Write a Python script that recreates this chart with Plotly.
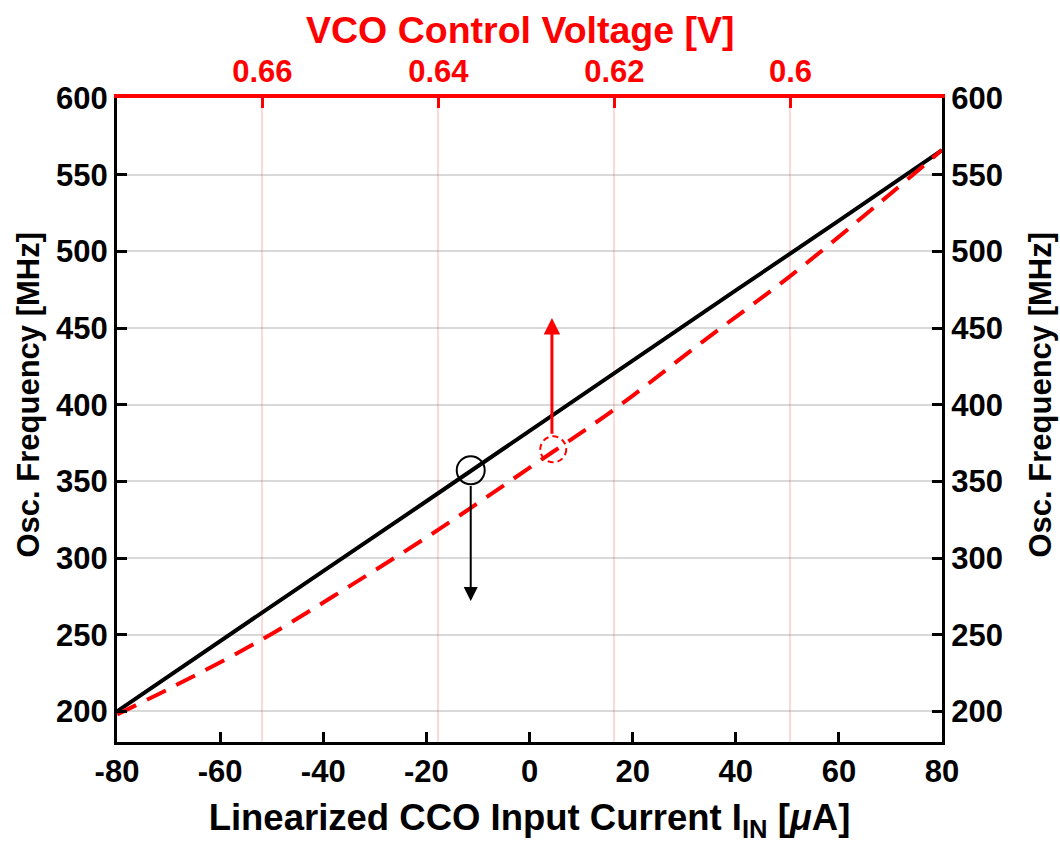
import plotly.graph_objects as go

# ---- data ----
current_uA = [-80, -60, -40, -20, 0, 20, 40, 60, 80]
freq_cco_MHz = [200, 246, 291.5, 337, 383, 429, 474.5, 520, 566]

vco_voltage_V = [0.6765, 0.67, 0.66, 0.65, 0.64, 0.63, 0.62, 0.61, 0.60, 0.59, 0.5828]
freq_vco_MHz = [198, 216.5, 247, 282, 318.5, 357.5, 397, 441, 484, 531, 566]

x_ticks = [-80, -60, -40, -20, 0, 20, 40, 60, 80]
x_tick_labels = ["-80", "-60", "-40", "-20", "0", "20", "40", "60", "80"]
y_ticks = [200, 250, 300, 350, 400, 450, 500, 550, 600]
v_ticks = [0.66, 0.64, 0.62, 0.6]
v_tick_labels = ["0.66", "0.64", "0.62", "0.6"]

# marker points
cco_point = (-11.4, 357.2)
cco_arrow = (348, 272)
vco_point = (0.62695, 370.9)
vco_arrow = (0.6271, 380, 456.5)

FONT = "Liberation Sans"
Y_TITLE = "Osc. Frequency [MHz]"
TOP_TITLE = "VCO Control Voltage [V]"

fig = go.Figure()
fig.add_trace(go.Scatter(x=current_uA, y=freq_cco_MHz, mode="lines",
                         line=dict(color="black", width=4), xaxis="x", yaxis="y",
                         showlegend=False))
fig.add_trace(go.Scatter(x=vco_voltage_V, y=freq_vco_MHz, mode="lines",
                         line=dict(color="red", width=4, dash="21px,12px", shape="spline"),
                         xaxis="x2", yaxis="y", showlegend=False))
# trace on the right axis so it is shown
fig.add_trace(go.Scatter(x=[None], y=[None], xaxis="x", yaxis="y2", showlegend=False))

tickfont = dict(family=FONT, size=31, color="black", weight="bold")

fig.update_layout(
    width=1060, height=846,
    margin=dict(l=117, r=118, t=98, b=104),
    paper_bgcolor="white", plot_bgcolor="white",
    xaxis=dict(range=[-80, 80], tickvals=x_ticks, ticktext=x_tick_labels, ticks="inside",
               ticklen=10, tickwidth=3, tickcolor="black", showgrid=False, zeroline=False,
               showline=True, linecolor="black", linewidth=3, tickfont=tickfont,
               title=dict(text="Linearized CCO Input Current I<sub>IN</sub> [<i>μ</i>A]",
                          font=dict(family=FONT, size=36.5, color="black", weight="bold"),
                          standoff=17)),
    xaxis2=dict(overlaying="x", side="top", range=[0.67652, 0.58278], tickvals=v_ticks,
                ticktext=v_tick_labels, ticks="inside", ticklen=10, tickwidth=3,
                tickcolor="red", showgrid=True, gridcolor="rgba(255,0,0,0.15)", gridwidth=2,
                zeroline=False, showline=True, linecolor="red", linewidth=4,
                tickfont=dict(family=FONT, size=31, color="red", weight="bold")),
    yaxis=dict(range=[180, 600], tickvals=y_ticks, ticks="inside", ticklen=10, tickwidth=3,
               tickcolor="black", showgrid=True, gridcolor="rgba(0,0,0,0.15)", gridwidth=2,
               zeroline=False, showline=True, linecolor="black", linewidth=3,
               tickfont=tickfont),
    yaxis2=dict(overlaying="y", side="right", range=[180, 600], tickvals=y_ticks,
                ticks="inside", ticklen=10, tickwidth=3, tickcolor="black", showgrid=False,
                zeroline=False, showline=True, linecolor="black", linewidth=3,
                tickfont=tickfont),
)

plot_w = 1060 - 117 - 118
plot_h = 846 - 98 - 104
# y-axis titles
for xpix in (28, 1040):
    fig.add_annotation(text=Y_TITLE, xref="paper", yref="paper",
                       x=(xpix - 117) / plot_w, y=(846 - 104 - 394.5) / plot_h,
                       xanchor="center", yanchor="middle", textangle=-90,
                       showarrow=False,
                       font=dict(family=FONT, size=31, color="black", weight="bold"))
# top axis title
fig.add_annotation(text=TOP_TITLE, xref="paper", yref="paper",
                   x=(519.5 - 117) / plot_w, y=(846 - 104 - 30) / plot_h,
                   xanchor="center", yanchor="middle", showarrow=False,
                   font=dict(family=FONT, size=37.5, color="red", weight="bold"))

fig.add_shape(type="circle", xref="x", yref="y", xsizemode="pixel", ysizemode="pixel",
              xanchor=cco_point[0], yanchor=cco_point[1], x0=-14, x1=14, y0=-14, y1=14,
              line=dict(color="black", width=2))
fig.add_shape(type="circle", xref="x2", yref="y", xsizemode="pixel", ysizemode="pixel",
              xanchor=vco_point[0], yanchor=vco_point[1], x0=-13, x1=13, y0=-13, y1=13,
              line=dict(color="red", width=2, dash="6px,4px"))

fig.add_annotation(x=cco_point[0], y=cco_arrow[1], ax=cco_point[0], ay=cco_arrow[0],
                   xref="x", yref="y", axref="x", ayref="y", text="", showarrow=True,
                   arrowhead=2, arrowsize=1.4, arrowwidth=2, arrowcolor="black")
fig.add_annotation(x=vco_arrow[0], y=vco_arrow[2], ax=vco_arrow[0], ay=vco_arrow[1],
                   xref="x2", yref="y", axref="x2", ayref="y", text="", showarrow=True,
                   arrowhead=2, arrowsize=1.1, arrowwidth=3, arrowcolor="red")

fig.write_html("out.html")
